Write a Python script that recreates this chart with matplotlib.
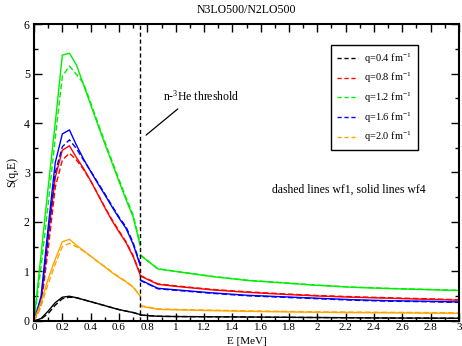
import matplotlib
matplotlib.use("Agg")
import matplotlib.pyplot as plt
from matplotlib.lines import Line2D
from matplotlib.ticker import MultipleLocator, FuncFormatter

plt.rcParams["font.family"] = ["Liberation Serif", "DejaVu Serif"]
plt.rcParams["mathtext.fontset"] = "custom"
plt.rcParams["mathtext.rm"] = "Liberation Serif"
plt.rcParams["mathtext.it"] = "Liberation Serif:italic"

# Energy grids below and above the n-3He threshold (MeV)
e_low = [0.0, 0.05, 0.1, 0.15, 0.2, 0.25, 0.3, 0.35, 0.4, 0.45, 0.5, 0.55, 0.6, 0.65, 0.7, 0.75]
e_high = [0.75, 0.875, 1.0, 1.25, 1.5, 1.75, 2.0, 2.25, 2.5, 2.75, 3.0]

q_labels = ["q=0.4 fm$^{-1}$", "q=0.8 fm$^{-1}$", "q=1.2 fm$^{-1}$",
            "q=1.6 fm$^{-1}$", "q=2.0 fm$^{-1}$"]
q_colors = ["black", "red", "#00ee00", "blue", "orange"]

# wf4 (solid) below threshold
s04_low = [0.0, 0.05, 0.2, 0.37, 0.48, 0.5, 0.47, 0.43, 0.39, 0.35, 0.31, 0.27, 0.23, 0.2, 0.17, 0.13]
s08_low = [0.0, 0.4, 1.7, 2.9, 3.45, 3.54, 3.3, 3.08, 2.83, 2.56, 2.29, 2.03, 1.8, 1.58, 1.3, 0.93]
s12_low = [0.0, 1.35, 2.7, 4.0, 5.37, 5.41, 5.17, 4.77, 4.37, 3.97, 3.58, 3.2, 2.82, 2.45, 2.1, 1.52]
s16_low = [0.0, 0.5, 1.9, 3.2, 3.78, 3.86, 3.55, 3.27, 3.02, 2.78, 2.55, 2.31, 2.08, 1.87, 1.55, 1.12]
s20_low = [0.0, 0.38, 0.85, 1.25, 1.6, 1.65, 1.53, 1.42, 1.31, 1.2, 1.09, 0.98, 0.88, 0.79, 0.68, 0.5]

# wf1 (dashed) below threshold
d04_low = [0.0, 0.04, 0.15, 0.32, 0.45, 0.48, 0.47, 0.43, 0.39, 0.35, 0.31, 0.27, 0.23, 0.2, 0.17, 0.13]
d08_low = [0.0, 0.3, 1.45, 2.7, 3.25, 3.39, 3.25, 3.06, 2.83, 2.57, 2.3, 2.05, 1.82, 1.6, 1.32, 0.95]
d12_low = [0.0, 1.1, 2.35, 3.7, 4.94, 5.15, 4.98, 4.8, 4.41, 4.01, 3.62, 3.24, 2.86, 2.49, 2.14, 1.55]
d16_low = [0.0, 0.4, 1.7, 3.0, 3.52, 3.66, 3.48, 3.25, 3.03, 2.8, 2.57, 2.33, 2.1, 1.9, 1.58, 1.15]
d20_low = [0.0, 0.3, 0.75, 1.15, 1.5, 1.57, 1.5, 1.41, 1.31, 1.2, 1.1, 0.99, 0.89, 0.8, 0.69, 0.51]

# wf4 (solid) above threshold
s04_high = [0.12, 0.095, 0.09, 0.085, 0.08, 0.075, 0.07, 0.065, 0.06, 0.058, 0.055]
s08_high = [0.91, 0.74, 0.70, 0.63, 0.58, 0.54, 0.505, 0.48, 0.46, 0.44, 0.42]
s12_high = [1.33, 1.05, 1.00, 0.90, 0.82, 0.77, 0.72, 0.68, 0.655, 0.635, 0.615]
s16_high = [0.83, 0.66, 0.63, 0.57, 0.52, 0.49, 0.46, 0.43, 0.41, 0.40, 0.385]
s20_high = [0.30, 0.235, 0.225, 0.21, 0.195, 0.185, 0.175, 0.17, 0.165, 0.16, 0.155]

# wf1 (dashed) above threshold
d04_high = [0.12, 0.095, 0.09, 0.085, 0.08, 0.075, 0.07, 0.065, 0.06, 0.058, 0.055]
d08_high = [0.92, 0.75, 0.71, 0.64, 0.59, 0.55, 0.515, 0.49, 0.47, 0.45, 0.43]
d12_high = [1.34, 1.055, 1.005, 0.905, 0.825, 0.775, 0.725, 0.685, 0.66, 0.64, 0.62]
d16_high = [0.82, 0.65, 0.62, 0.56, 0.51, 0.48, 0.45, 0.42, 0.40, 0.39, 0.375]
d20_high = [0.31, 0.245, 0.235, 0.22, 0.205, 0.195, 0.185, 0.18, 0.175, 0.17, 0.165]

solid_low = [s04_low, s08_low, s12_low, s16_low, s20_low]
dashed_low = [d04_low, d08_low, d12_low, d16_low, d20_low]
solid_high = [s04_high, s08_high, s12_high, s16_high, s20_high]
dashed_high = [d04_high, d08_high, d12_high, d16_high, d20_high]

threshold = 0.75

fig = plt.figure(figsize=(4.62, 3.46), dpi=100)
ax = fig.add_axes([0.0736, 0.0723, 0.9199, 0.8583])

lw = 1.0
for col, sl, dl, sh, dh in zip(q_colors, solid_low, dashed_low, solid_high, dashed_high):
    ax.plot(e_low, dl, color=col, lw=lw, ls=(0, (4, 2)))
    ax.plot(e_high, dh, color=col, lw=lw, ls=(0, (4, 2)))
    ax.plot(e_low, sl, color=col, lw=lw)
    ax.plot(e_high, sh, color=col, lw=lw)

ax.axvline(threshold, color="black", lw=1.0, ls=(0, (3, 2)))

ax.set_xlim(0, 3)
ax.set_ylim(0, 6)
ax.xaxis.set_major_locator(MultipleLocator(0.2))
ax.xaxis.set_minor_locator(MultipleLocator(0.1))
ax.yaxis.set_major_locator(MultipleLocator(1))
ax.yaxis.set_minor_locator(MultipleLocator(0.5))
ax.xaxis.set_major_formatter(FuncFormatter(lambda v, p: f"{v:g}"))
ax.tick_params(which="both", direction="in", top=True, right=True,
               labelsize=8.5, width=1.0)
ax.tick_params(axis="x", pad=1.5, labelsize=8)
ax.tick_params(axis="y", pad=3)
ax.tick_params(which="major", length=6)
ax.tick_params(which="minor", length=3)
for sp in ax.spines.values():
    sp.set_linewidth(1.5)

ax.set_title("N3LO500/N2LO500", fontsize=8.5, pad=8)
ax.set_xlabel("E [MeV]", fontsize=8, va="bottom")
ax.xaxis.set_label_coords(0.501, -0.083)
ax.set_ylabel("S(q,E)", fontsize=8.5, labelpad=4)

ax.text(0.91, 4.53, "n-$^{3}$He threshold", fontsize=8.5, va="center", ha="left")
ax.annotate("", xy=(0.776, 3.72), xytext=(1.03, 4.32),
            arrowprops=dict(arrowstyle="-", color="black", lw=0.9))
ax.text(2.22, 2.65, "dashed lines wf1, solid lines wf4", fontsize=8.5,
        ha="center", va="center")

handles = [Line2D([], [], color=c, lw=lw, ls=(0, (3, 2))) for c in q_colors]
leg = ax.legend(handles, q_labels, loc="upper left", bbox_to_anchor=(0.699, 0.929),
                borderaxespad=0, fancybox=False, framealpha=1, edgecolor="black",
                fontsize=7.5, handlelength=2.0, handletextpad=0.6,
                labelspacing=0.5, borderpad=0.6)
leg.get_frame().set_linewidth(1.0)

fig.savefig("out.png", dpi=100)
